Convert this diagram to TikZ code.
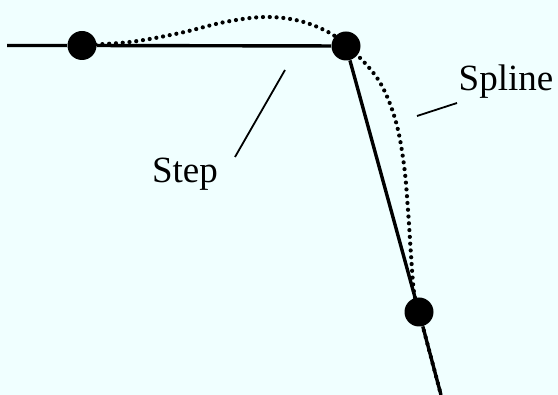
\documentclass[tikz,border=0pt]{standalone}
\usepackage{fontspec}
\setmainfont{Liberation Serif}
\definecolor{bgc}{RGB}{240,255,255}
\begin{document}
\begin{tikzpicture}[x=0.5pt,y=-0.5pt,
  knot/.style={circle,fill=black,inner sep=0pt,minimum size=14.5pt},
  stepline/.style={line width=1.7pt},
  splineline/.style={line width=2.1pt,line cap=round,dash pattern=on 0pt off 3.4pt},
  leader/.style={line width=0.9pt},
  lbl/.style={font=\fontsize{18.5}{20}\selectfont,anchor=base,inner sep=0pt}]
\fill[bgc] (0,0) rectangle (558,395);
\useasboundingbox (0,0) rectangle (558,395);
\coordinate (w) at (7,45.5);
\coordinate (e) at (441,395);
\node[knot] (p1) at (82,45.5) {};
\node[knot] (p2) at (346,46) {};
\node[knot] (p3) at (419,312) {};
\draw[splineline] plot[smooth,tension=0.6] coordinates {(82,45) (130,42) (180,33) (225,22) (265,17) (300,21) (330,33) (346,46) (364,62) (382,86) (396,122) (404,165) (408,210) (411,255) (414,292) (419,312) (441,395)};
\draw[stepline] (w) -- (p1) -- (p2) -- (p3) -- (e);
\node[lbl] (steplbl) at (185,183) {Step};
\node[lbl] (splinelbl) at (506,91) {Spline};
\coordinate (s1) at (235,157);
\coordinate (s2) at (285,70);
\coordinate (q1) at (417,116);
\coordinate (q2) at (457,103);
\draw[leader] (s1) -- (s2);
\draw[leader] (q1) -- (q2);
\end{tikzpicture}
\end{document}
